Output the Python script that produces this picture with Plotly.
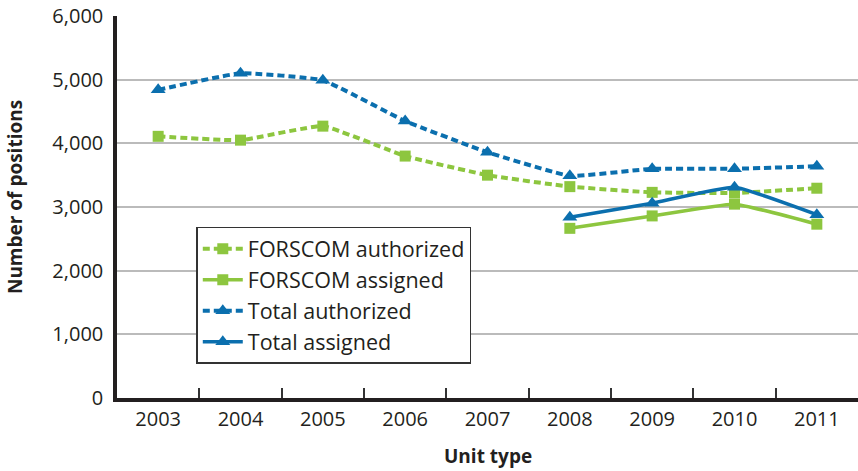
import plotly.graph_objects as go

years = ["2003", "2004", "2005", "2006", "2007", "2008", "2009", "2010", "2011"]
forscom_authorized = [4110, 4050, 4270, 3800, 3500, 3320, 3230, 3220, 3295]
forscom_assigned = [None, None, None, None, None, 2665, 2860, 3045, 2730]
total_authorized = [4840, 5100, 4990, 4350, 3860, 3490, 3600, 3600, 3640]
total_assigned = [None, None, None, None, None, 2840, 3060, 3310, 2880]

GREEN = "#8DC63F"
BLUE = "#0B6FAE"
FONT = "Open Sans, Liberation Sans, sans-serif"

fig = go.Figure()
common = dict(mode="lines+markers", line_shape="spline")
fig.add_trace(go.Scatter(x=years, y=forscom_authorized, name="FORSCOM authorized",
                         line=dict(color=GREEN, width=4, dash="7px,4px", smoothing=0.35),
                         marker=dict(symbol="square", size=11, color=GREEN), **common))
fig.add_trace(go.Scatter(x=years, y=forscom_assigned, name="FORSCOM assigned",
                         line=dict(color=GREEN, width=3.5, smoothing=0.35),
                         marker=dict(symbol="square", size=11, color=GREEN), **common))
fig.add_trace(go.Scatter(x=years, y=total_authorized, name="Total authorized",
                         line=dict(color=BLUE, width=4, dash="7px,4px", smoothing=0.35),
                         marker=dict(symbol="triangle-up", size=13, color=BLUE), **common))
fig.add_trace(go.Scatter(x=years, y=total_assigned, name="Total assigned",
                         line=dict(color=BLUE, width=3.5, smoothing=0.35),
                         marker=dict(symbol="triangle-up", size=13, color=BLUE), **common))

fig.update_layout(
    width=858, height=471,
    margin=dict(l=117, r=0, t=16, b=73),
    paper_bgcolor="white", plot_bgcolor="white",
    font=dict(family=FONT, size=20, color="#231F20"),
    showlegend=True,
    legend=dict(x=0.107, y=0.448, xanchor="left", yanchor="top",
                bordercolor="#333333", borderwidth=1.5, bgcolor="white",
                font=dict(size=21.5), tracegroupgap=0, itemwidth=40),
    xaxis=dict(type="category", tickson="boundaries", ticks="inside", ticklen=10,
               tickwidth=1.5, tickcolor="#333333", showline=True, linecolor="#231F20",
               linewidth=3.5, showgrid=False, range=[-0.5, 8.5], automargin=False),
    yaxis=dict(range=[0, 6000], dtick=1000, tickformat=",", showline=True,
               linecolor="#231F20", linewidth=3.5, showgrid=True, gridcolor="#BBBBBB",
               gridwidth=1.5, zeroline=False, ticks="", ticklabelstandoff=6,
               automargin=False, ticklabeloverflow="allow"),
    annotations=[
        dict(text="<b>Number of positions</b>", xref="paper", yref="paper",
             x=0, y=0.526, xshift=-102, xanchor="center", yanchor="middle",
             textangle=-90, showarrow=False, font=dict(size=19)),
        dict(text="<b>Unit type</b>", xref="paper", yref="paper",
             x=0.5, y=-0.152, xanchor="center", yanchor="middle",
             showarrow=False, font=dict(size=19)),
    ],
)

fig.write_html("out.html", config={"displayModeBar": False},
               post_script="document.body.style.margin='0';")
